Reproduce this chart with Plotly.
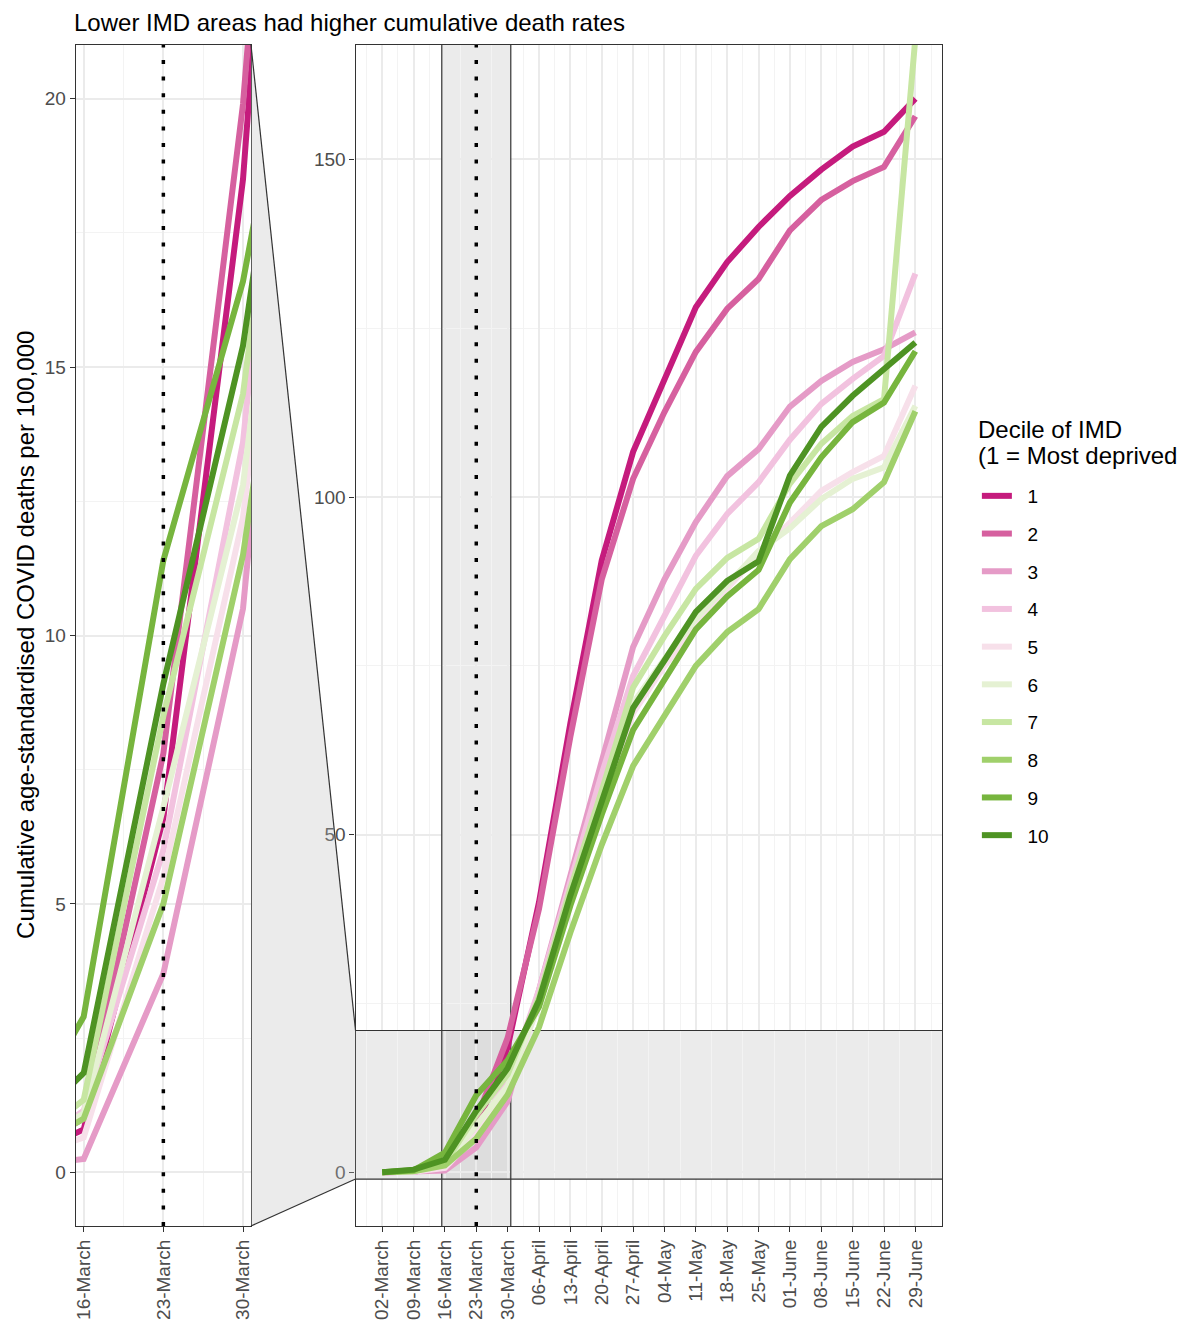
import plotly.graph_objects as go

dates = ["2020-03-02", "2020-03-09", "2020-03-16", "2020-03-23", "2020-03-30", "2020-04-06",
         "2020-04-13", "2020-04-20", "2020-04-27", "2020-05-04", "2020-05-11", "2020-05-18",
         "2020-05-25", "2020-06-01", "2020-06-08", "2020-06-15", "2020-06-22", "2020-06-29"]

decile_1 = [0.0, 0.1, 0.8, 6.6, 18.5, 40.0, 66.5, 90.6, 106.7, 117.5, 128.1, 134.8, 140.0, 144.6, 148.5, 151.9, 154.1, 159.0]
decile_2 = [0.0, 0.15, 1.0, 7.8, 19.9, 39.0, 64.5, 87.8, 102.7, 112.6, 121.5, 127.9, 132.3, 139.5, 144.0, 146.8, 148.9, 156.4]
decile_3 = [0.0, 0.05, 0.25, 3.7, 10.5, 27.0, 44.0, 61.5, 77.8, 87.8, 96.3, 103.1, 107.1, 113.4, 117.2, 120.0, 121.9, 124.4]
decile_4 = [0.0, 0.1, 1.15, 6.0, 13.6, 27.0, 43.0, 59.0, 73.5, 82.4, 91.3, 97.5, 102.2, 108.5, 113.8, 117.5, 120.9, 133.1]
decile_5 = [0.0, 0.1, 0.65, 5.5, 12.2, 25.0, 41.0, 55.0, 68.0, 75.0, 81.0, 86.5, 91.5, 96.3, 100.9, 103.7, 106.1, 116.5]
decile_6 = [0.0, 0.15, 1.1, 6.8, 12.8, 25.0, 41.0, 55.5, 69.5, 76.0, 82.0, 87.0, 92.0, 95.4, 99.7, 102.7, 104.4, 113.5]
decile_7 = [0.0, 0.2, 1.35, 8.5, 14.5, 26.0, 42.0, 56.5, 71.8, 79.4, 86.4, 91.0, 93.8, 102.0, 107.9, 112.0, 114.5, 168.0]
decile_8 = [0.0, 0.15, 1.0, 5.0, 11.5, 21.5, 35.5, 48.5, 60.2, 67.6, 75.0, 80.0, 83.4, 90.8, 95.7, 98.2, 102.2, 112.7]
decile_9 = [0.0, 0.3, 2.9, 11.4, 16.6, 24.5, 39.5, 53.0, 65.5, 72.8, 80.4, 85.3, 89.2, 99.2, 105.9, 111.1, 114.0, 121.6]
decile_10 = [0.0, 0.4, 1.85, 9.1, 15.4, 25.5, 41.0, 55.0, 68.8, 75.8, 83.0, 87.6, 90.5, 103.2, 110.4, 115.0, 119.0, 122.9]

decile_names = ["1", "2", "3", "4", "5", "6", "7", "8", "9", "10"]
decile_values = [decile_1, decile_2, decile_3, decile_4, decile_5,
                 decile_6, decile_7, decile_8, decile_9, decile_10]
colors = ["#c51b7d", "#d6609f", "#e59bc7", "#f2c2df", "#f7e0ea",
          "#e5f1d3", "#c7e6a2", "#a0d06b", "#77b53e", "#4e9323"]

lockdown_date = "2020-03-23"
zoom_x = ["2020-03-15 07:12", "2020-03-30 16:48"]
zoom_y = [-1, 21]
main_x = ["2020-02-25 01:12", "2020-07-04 22:48"]
main_y = [-7.95, 166.95]

OFF = 8  # browser body margin
W, H = 1185 - OFF, 1323 - OFF
FONT = "Liberation Sans, Arial, sans-serif"


def px_x(p):
    return (p - OFF) / W


def px_y(p):
    return 1 - (p - OFF) / H


left_dom = [px_x(73), px_x(249)]
right_dom = [px_x(354), px_x(943)]
y_dom = [px_y(1226), px_y(45)]

LW = 6
NBSP = "\u00a0\u00a0"
fig = go.Figure()
for name, vals, col in zip(decile_names, decile_values, colors):
    fig.add_trace(go.Scatter(x=dates, y=vals, mode="lines", name=NBSP + name,
                             line=dict(color=col, width=LW), legendgroup=name,
                             xaxis="x", yaxis="y", showlegend=False))
for name, vals, col in zip(decile_names, decile_values, colors):
    fig.add_trace(go.Scatter(x=dates, y=vals, mode="lines", name=NBSP + name,
                             line=dict(color=col, width=LW), legendgroup=name,
                             xaxis="x2", yaxis="y2", showlegend=True))

grid_major = "#ebebeb"
grid_minor = "#f3f3f3"
tickfont = dict(family=FONT, size=19, color="#4d4d4d")
week_ms = 7 * 24 * 3600 * 1000

common_x = dict(type="date", tickformat="%d-%B", tickangle=-90, tickfont=tickfont,
                ticks="outside", ticklen=5, tickcolor="#333333", tickwidth=1.2,
                showgrid=True, gridcolor=grid_major, gridwidth=1.6,
                showline=True, mirror=True, linecolor="#333333", linewidth=1.2,
                zeroline=False, tick0="2020-03-02", dtick=week_ms,
                minor=dict(dtick=week_ms / 2, tick0="2020-03-02", showgrid=True,
                           gridcolor=grid_minor, gridwidth=1.2, ticks=""))
common_y = dict(tickfont=tickfont, ticks="outside", ticklen=5, tickcolor="#333333",
                tickwidth=1.2, showgrid=True, gridcolor=grid_major, gridwidth=1.6,
                showline=True, mirror=True, linecolor="#333333", linewidth=1.2,
                zeroline=False, domain=y_dom)

fig.update_layout(
    width=W, height=H,
    margin=dict(l=0, r=0, t=0, b=0),
    paper_bgcolor="white", plot_bgcolor="rgba(0,0,0,0)",
    font=dict(family=FONT, color="black"),
    xaxis=dict(common_x, domain=left_dom, range=zoom_x, anchor="y"),
    yaxis=dict(common_y, range=zoom_y, anchor="x", tick0=0, dtick=5,
               minor=dict(dtick=2.5, showgrid=True, gridcolor=grid_minor, gridwidth=1.2, ticks="")),
    xaxis2=dict(common_x, domain=right_dom, range=main_x, anchor="y2"),
    yaxis2=dict(common_y, range=main_y, anchor="x2", tick0=0, dtick=50,
                minor=dict(dtick=25, showgrid=True, gridcolor=grid_minor, gridwidth=1.2, ticks="")),
    legend=dict(x=px_x(978), y=px_y(477), xanchor="left", yanchor="top",
                font=dict(size=19, family=FONT), tracegroupgap=10, itemwidth=30,
                bgcolor="rgba(0,0,0,0)"),
    showlegend=True,
)

band_fill = "rgba(190,190,190,0.3)"
edge = dict(color="#333333", width=1.2)
shapes = [
    # zoom indicator bands in the main panel
    dict(type="rect", xref="x2", yref="y2", x0=zoom_x[0], x1=zoom_x[1], y0=main_y[0], y1=main_y[1],
         fillcolor=band_fill, line=dict(width=0), layer="below"),
    dict(type="rect", xref="x2", yref="y2", x0=main_x[0], x1=main_x[1], y0=zoom_y[0], y1=zoom_y[1],
         fillcolor=band_fill, line=dict(width=0), layer="below"),
    # band edges (above grid, below data)
    dict(type="line", xref="x2", yref="y2", x0=zoom_x[0], x1=zoom_x[0], y0=main_y[0], y1=main_y[1],
         line=edge, layer="between"),
    dict(type="line", xref="x2", yref="y2", x0=zoom_x[1], x1=zoom_x[1], y0=main_y[0], y1=main_y[1],
         line=edge, layer="between"),
    dict(type="line", xref="x2", yref="y2", x0=main_x[0], x1=main_x[1], y0=zoom_y[0], y1=zoom_y[0],
         line=edge, layer="between"),
    dict(type="line", xref="x2", yref="y2", x0=main_x[0], x1=main_x[1], y0=zoom_y[1], y1=zoom_y[1],
         line=edge, layer="between"),
    # connector between zoom panel and main panel
    dict(type="path", xref="paper", yref="y2",
         path=f"M {left_dom[1]},{main_y[1]} L {right_dom[0]},{zoom_y[1]} L {right_dom[0]},{zoom_y[0]} L {left_dom[1]},{main_y[0]} Z",
         fillcolor=band_fill, line=dict(width=0), layer="above"),
    dict(type="line", xref="paper", yref="y2", x0=left_dom[1], y0=main_y[1], x1=right_dom[0], y1=zoom_y[1],
         line=edge, layer="above"),
    dict(type="line", xref="paper", yref="y2", x0=left_dom[1], y0=main_y[0], x1=right_dom[0], y1=zoom_y[0],
         line=edge, layer="above"),
    # lockdown date
    dict(type="line", xref="x", yref="y domain", x0=lockdown_date, x1=lockdown_date, y0=0, y1=1,
         line=dict(color="black", width=3.5, dash="4px,12.6px"), layer="above"),
    dict(type="line", xref="x2", yref="y2 domain", x0=lockdown_date, x1=lockdown_date, y0=0, y1=1,
         line=dict(color="black", width=3.5, dash="4px,12.6px"), layer="above"),
]
fig.update_layout(shapes=shapes)

fig.add_annotation(text="Lower IMD areas had higher cumulative death rates", xref="paper", yref="paper",
                   x=px_x(69), y=px_y(22), xanchor="left", yanchor="middle", showarrow=False,
                   font=dict(size=24, family=FONT, color="black"))
fig.add_annotation(text="Cumulative age-standardised COVID deaths per 100,000", xref="paper", yref="paper",
                   x=px_x(22), y=px_y(635), xanchor="center", yanchor="middle", showarrow=False,
                   textangle=-90, font=dict(size=24, family=FONT, color="black"))
fig.add_annotation(text="Decile of IMD", xref="paper", yref="paper",
                   x=px_x(977), y=px_y(430), xanchor="left", yanchor="middle", showarrow=False,
                   font=dict(size=24, family=FONT, color="black"))
fig.add_annotation(text="(1 = Most deprived", xref="paper", yref="paper",
                   x=px_x(977), y=px_y(456), xanchor="left", yanchor="middle", showarrow=False,
                   font=dict(size=24, family=FONT, color="black"))

fig.write_html("out.html")
